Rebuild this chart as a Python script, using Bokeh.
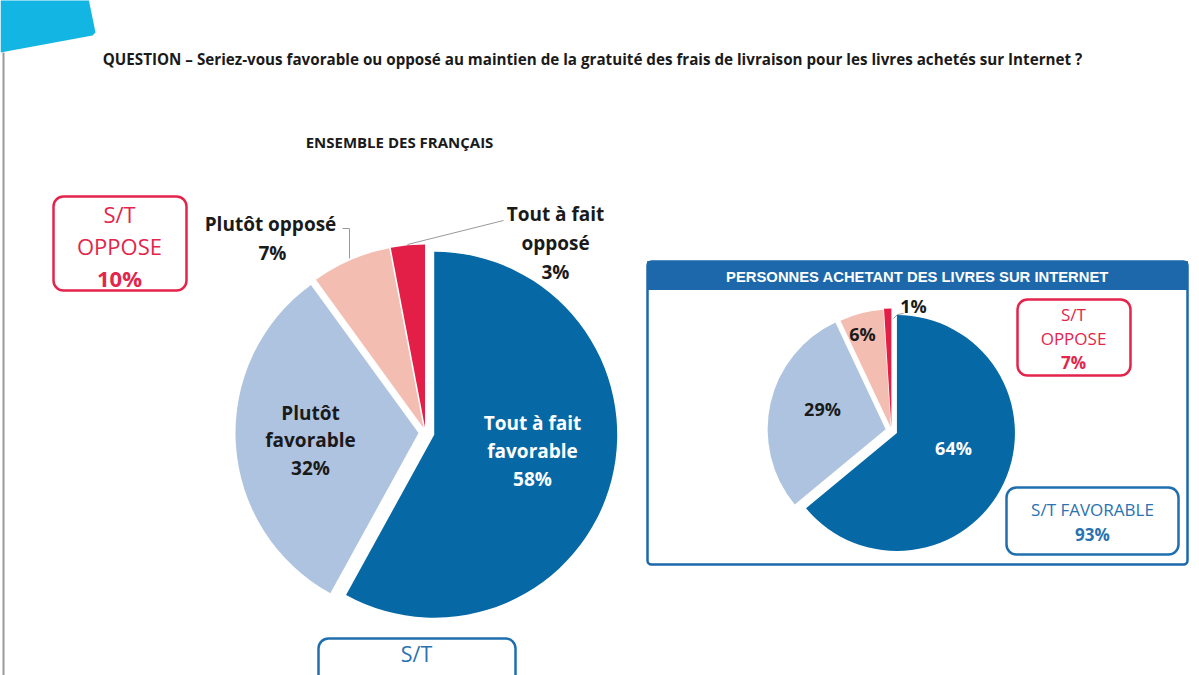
import math
from bokeh.plotting import figure
from bokeh.models import Range1d, BoxAnnotation
from bokeh.core.properties import value
from bokeh.embed import file_html
from bokeh.resources import INLINE

# ---------------- data ----------------
title_text = "QUESTION \u2013 Seriez-vous favorable ou oppos\u00e9 au maintien de la gratuit\u00e9 des frais de livraison pour les livres achet\u00e9s sur Internet ?"
main_title = "ENSEMBLE DES FRAN\u00c7AIS"
inset_title = "PERSONNES ACHETANT DES LIVRES SUR INTERNET"

categories = ["Tout \u00e0 fait favorable", "Plut\u00f4t favorable", "Plut\u00f4t oppos\u00e9", "Tout \u00e0 fait oppos\u00e9"]
main_values = [58, 32, 7, 3]
inset_values = [64, 29, 6, 1]
main_st_oppose = 10
inset_st_oppose = 7
inset_st_favorable = 93

# ---------------- style ----------------
slice_colors = ["#0669A6", "#AEC3E0", "#F4BDB2", "#E31F47"]
RED = "#E3254C"
BLUE = "#1C68AA"
TBLUE = "#2A72B0"
FONT = value("Open Sans")
W, H = 1199, 675


def Y(py):
    return H - py


p = figure(width=W, height=H, output_backend="svg", toolbar_location=None,
           x_range=Range1d(0, W), y_range=Range1d(0, H),
           x_axis_type=None, y_axis_type=None, min_border=0)
p.outline_line_color = None
p.grid.visible = False
p.background_fill_color = "white"


def pie(values, cx, cy, r, explode):
    total = float(sum(values))
    cum = 0.0
    for v, col, d in zip(values, slice_colors, explode):
        f0 = cum / total
        f1 = (cum + v) / total
        cum += v
        fm = (f0 + f1) / 2
        x0 = cx + d * math.sin(2 * math.pi * fm)
        y0 = cy + d * math.cos(2 * math.pi * fm)
        p.wedge(x=[x0], y=[y0], radius=r,
                start_angle=math.pi / 2 - 2 * math.pi * f0,
                end_angle=math.pi / 2 - 2 * math.pi * f1,
                direction="clock", fill_color=col, line_color=None)


def txt(x, y, s, size, color="#1a1a1a", bold=True, font=FONT):
    p.text(x=[x], y=[y], text=[s], text_font=font, text_font_size=f"{size}px",
           text_font_style="bold" if bold else "normal", text_color=color,
           text_align="center", text_baseline="middle")


def rbox(l, r, t, b, color, lw=2.5, radius=10):
    p.add_layout(BoxAnnotation(left=l, right=r, top=Y(t), bottom=Y(b), fill_alpha=0.0,
                               line_color=color, line_alpha=1.0,
                               line_width=lw, border_radius=radius, level="underlay"))


# slide decoration
p.patch(x=[0, 88, 95, 92, 0], y=[Y(-2), Y(-2), Y(32), Y(35), Y(52)], fill_color="#13B5E3", line_color=None)
p.line(x=[3, 3], y=[Y(52), Y(680)], line_color="#9a9a9a", line_width=2)

# title texts
txt(592, Y(58), title_text, 15.2)
txt(399, Y(141), main_title, 15)

# ---------------- main pie ----------------
pie(main_values, 425, Y(432), 183, [9, 7, 5, 5])

txt(310, Y(412), categories[1].split(" ")[0], 19)
txt(310, Y(439), "favorable", 19)
txt(310, Y(467), f"{main_values[1]}%", 19)
txt(532, Y(422), "Tout \u00e0 fait", 19, color="white")
txt(532, Y(450), "favorable", 19, color="white")
txt(532, Y(478), f"{main_values[0]}%", 19, color="white")

txt(270, Y(223), categories[2], 19)
txt(272, Y(252), f"{main_values[2]}%", 19)
txt(555, Y(213), "Tout \u00e0 fait", 19)
txt(555, Y(242), "oppos\u00e9", 19)
txt(555, Y(271), f"{main_values[3]}%", 19)

p.line(x=[342, 349, 349], y=[Y(228), Y(228), Y(258)], line_color="#9a9a9a", line_width=1)
p.line(x=[407, 503], y=[Y(244), Y(220)], line_color="#9a9a9a", line_width=1)

# left S/T OPPOSE box
rbox(53, 186, 196, 290, RED)
txt(119, Y(213), "S/T", 22, color=RED, bold=False)
txt(119, Y(245), "OPPOSE", 22, color=RED, bold=False)
txt(119, Y(277), f"{main_st_oppose}%", 22, color=RED)

# bottom S/T FAVORABLE box (cut off by the slide edge)
rbox(318, 515, 638, 720, "#1F6FAE")
txt(416, Y(653), "S/T", 21.5, color=TBLUE, bold=False)

# ---------------- inset ----------------
rbox(647, 1187, 261, 564, BLUE, lw=2.5, radius=4)
p.quad(left=[647], right=[1187], top=[Y(261)], bottom=[Y(289)], fill_color=BLUE, line_color=BLUE)
txt(917, Y(276), inset_title, 14.8, color="white", font=value("Liberation Sans"))

pie(inset_values, 891, Y(430), 118, [6, 6, 3, 4])
txt(953, Y(447), f"{inset_values[0]}%", 18, color="white")
txt(822, Y(408), f"{inset_values[1]}%", 18)
txt(862, Y(333), f"{inset_values[2]}%", 18)
txt(913, Y(305), f"{inset_values[3]}%", 18)
p.line(x=[893, 897, 903], y=[Y(318), Y(314), Y(313)], line_color="#9a9a9a", line_width=1)

rbox(1017, 1130, 299, 375, RED)
txt(1073, Y(314), "S/T", 17, color=RED, bold=False)
txt(1073, Y(338), "OPPOSE", 17, color=RED, bold=False)
txt(1073, Y(362), f"{inset_st_oppose}%", 17, color=RED)

rbox(1006, 1178, 487, 554, "#1F6FAE")
txt(1092, Y(509), "S/T FAVORABLE", 17, color=TBLUE, bold=False)
txt(1092, Y(534), f"{inset_st_favorable}%", 17, color=TBLUE)

open("out.html", "w").write(file_html(p, INLINE))
